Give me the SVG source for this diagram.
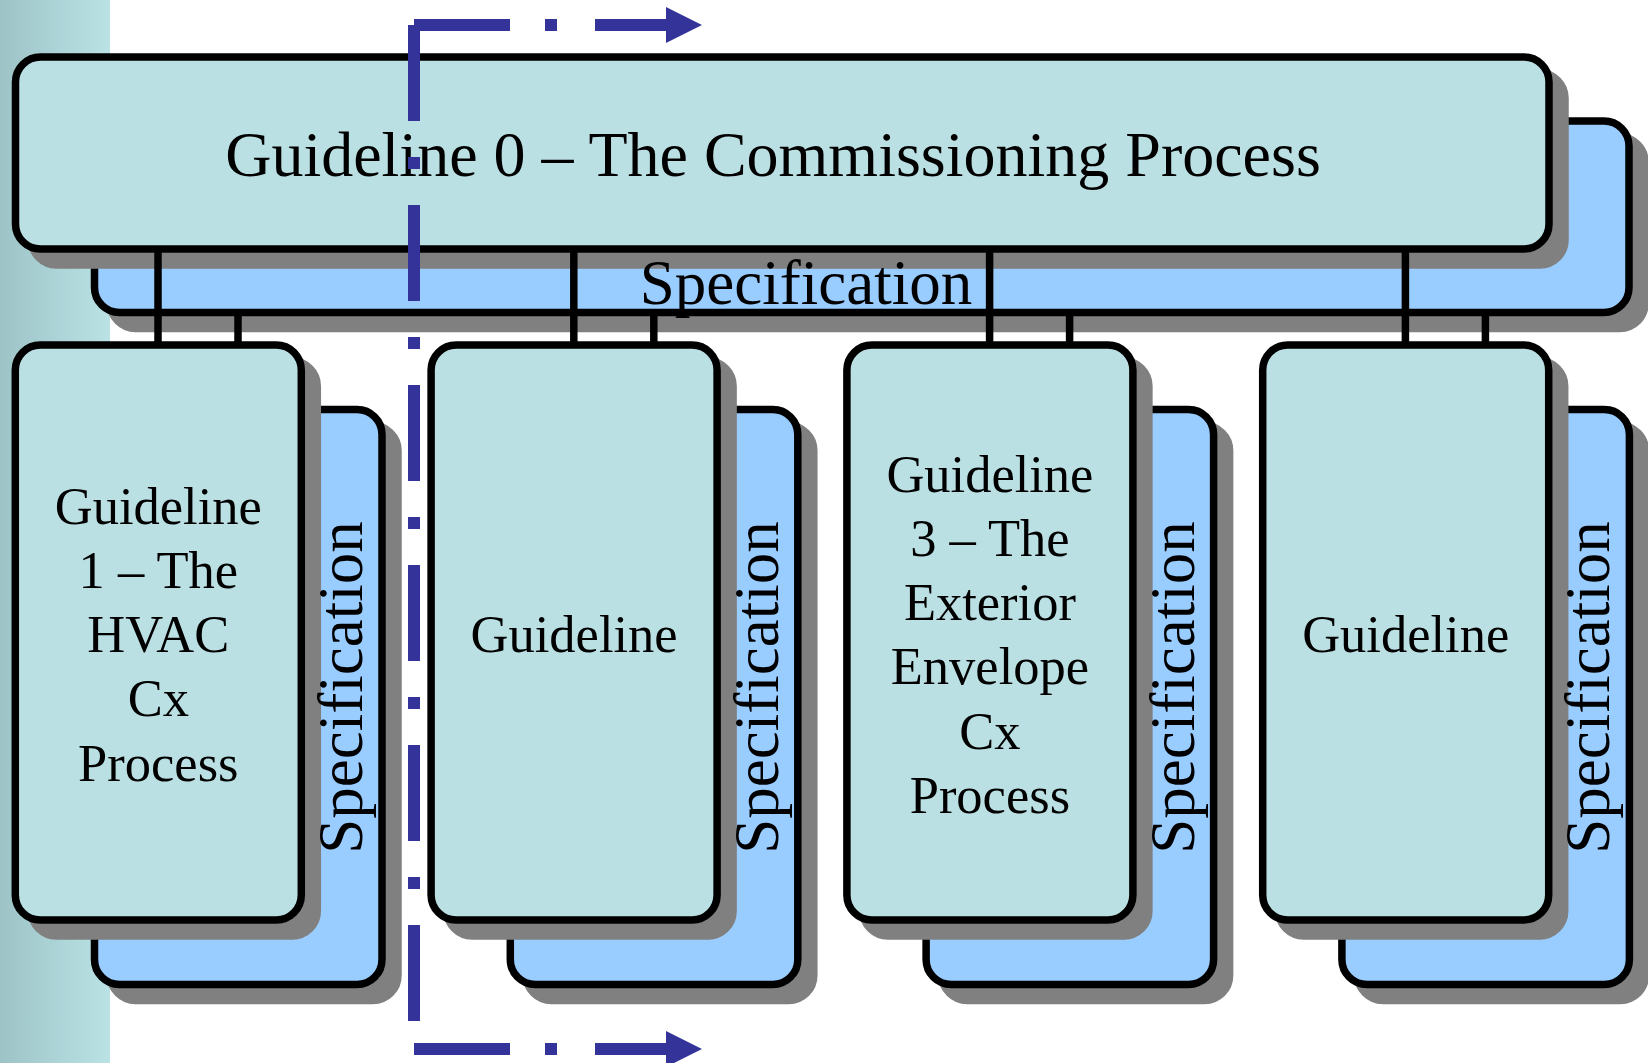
<svg xmlns="http://www.w3.org/2000/svg" width="1648" height="1063" viewBox="0 0 1648 1063">
<defs>
<linearGradient id="strip" x1="0" y1="0" x2="1" y2="0">
<stop offset="0" stop-color="#9dc3c7"/>
<stop offset="1" stop-color="#bae2e5"/>
</linearGradient>
<marker id="arrow" markerUnits="userSpaceOnUse" markerWidth="36" markerHeight="36" viewBox="0 0 36 36" refX="0" refY="18" orient="auto">
<path d="M0,0 L36,18 L0,36 Z" fill="#333399"/>
</marker>
</defs>
<style>
.gd{fill:#bbe0e3;stroke:#000;stroke-width:7.5}
.sp{fill:#99ccff;stroke:#000;stroke-width:7.5}
.sh{fill:#808080;stroke:#808080;stroke-width:7.5}
.big{font-family:"Liberation Serif","Times New Roman",serif;font-size:64px;fill:#000;text-anchor:middle}
.spt{font-family:"Liberation Serif","Times New Roman",serif;font-size:63px;fill:#000;text-anchor:middle}
.sm{font-family:"Liberation Serif","Times New Roman",serif;font-size:52.5px;fill:#000;text-anchor:middle}
.con{stroke:#000;stroke-width:7.5;fill:none}
.flow{stroke:#333399;stroke-width:12;fill:none}
</style>
<rect x="0" y="0" width="1648" height="1063" fill="#fff"/>
<rect x="0" y="0" width="110" height="1063" fill="url(#strip)"/>

<g id="spec-0">
<rect class="sh" x="110.5" y="137" width="1534.5" height="191.5" rx="25"/>
<rect class="sp" x="94.5" y="121" width="1534.5" height="191.5" rx="25"/>
</g>
<g id="guideline-0">
<rect class="sh" x="31.5" y="73" width="1533.5" height="192" rx="25"/>
<rect class="gd" x="15.5" y="57" width="1533.5" height="192" rx="25"/>
<text class="big" x="773" y="176">Guideline 0 – The Commissioning Process</text>
</g>
<g id="spec-0-label">
<text class="spt" x="806" y="304">Specification</text>
</g>

<g id="spec-1">
<rect class="sh" x="110.5" y="425.5" width="287.5" height="575" rx="25"/>
<rect class="sp" x="94.5" y="409.5" width="287.5" height="575" rx="25"/>
</g>
<g id="guideline-1">
<rect class="sh" x="31.3" y="361" width="286" height="575" rx="25"/>
<rect class="gd" x="15.3" y="345" width="286" height="575" rx="25"/>
<text class="sm" x="158.3" y="523.5">Guideline</text>
<text class="sm" x="158.3" y="587.75">1 – The</text>
<text class="sm" x="158.3" y="652">HVAC</text>
<text class="sm" x="158.3" y="716.25">Cx</text>
<text class="sm" x="158.3" y="780.5">Process</text>
</g>
<g id="spec-1-label">
<text class="spt" transform="translate(362,687.5) rotate(-90)">Specification</text>
</g>

<g id="spec-2" transform="translate(415.8,0)">
<rect class="sh" x="110.5" y="425.5" width="287.5" height="575" rx="25"/>
<rect class="sp" x="94.5" y="409.5" width="287.5" height="575" rx="25"/>
</g>
<g id="guideline-2" transform="translate(415.8,0)">
<rect class="sh" x="31.3" y="361" width="286" height="575" rx="25"/>
<rect class="gd" x="15.3" y="345" width="286" height="575" rx="25"/>
<text class="sm" x="158.3" y="652">Guideline</text>
</g>
<g id="spec-2-label" transform="translate(415.8,0)">
<text class="spt" transform="translate(362,687.5) rotate(-90)">Specification</text>
</g>

<g id="spec-3" transform="translate(831.6,0)">
<rect class="sh" x="110.5" y="425.5" width="287.5" height="575" rx="25"/>
<rect class="sp" x="94.5" y="409.5" width="287.5" height="575" rx="25"/>
</g>
<g id="guideline-3" transform="translate(831.6,0)">
<rect class="sh" x="31.3" y="361" width="286" height="575" rx="25"/>
<rect class="gd" x="15.3" y="345" width="286" height="575" rx="25"/>
<text class="sm" x="158.3" y="491.5">Guideline</text>
<text class="sm" x="158.3" y="555.75">3 – The</text>
<text class="sm" x="158.3" y="620">Exterior</text>
<text class="sm" x="158.3" y="684.25">Envelope</text>
<text class="sm" x="158.3" y="748.5">Cx</text>
<text class="sm" x="158.3" y="812.75">Process</text>
</g>
<g id="spec-3-label" transform="translate(831.6,0)">
<text class="spt" transform="translate(362,687.5) rotate(-90)">Specification</text>
</g>

<g id="spec-4" transform="translate(1247.4,0)">
<rect class="sh" x="110.5" y="425.5" width="287.5" height="575" rx="25"/>
<rect class="sp" x="94.5" y="409.5" width="287.5" height="575" rx="25"/>
</g>
<g id="guideline-4" transform="translate(1247.4,0)">
<rect class="sh" x="31.3" y="361" width="286" height="575" rx="25"/>
<rect class="gd" x="15.3" y="345" width="286" height="575" rx="25"/>
<text class="sm" x="158.3" y="652">Guideline</text>
</g>
<g id="spec-4-label" transform="translate(1247.4,0)">
<text class="spt" transform="translate(362,687.5) rotate(-90)">Specification</text>
</g>

<g id="connectors">
<line class="con" x1="158" y1="249" x2="158" y2="345"/>
<line class="con" x1="238" y1="312.5" x2="238" y2="345"/>
<line class="con" x1="573.8" y1="249" x2="573.8" y2="345"/>
<line class="con" x1="653.8" y1="312.5" x2="653.8" y2="345"/>
<line class="con" x1="989.6" y1="249" x2="989.6" y2="345"/>
<line class="con" x1="1069.6" y1="312.5" x2="1069.6" y2="345"/>
<line class="con" x1="1405.4" y1="249" x2="1405.4" y2="345"/>
<line class="con" x1="1485.4" y1="312.5" x2="1485.4" y2="345"/>
</g>

<g id="flow-arrows">
<line class="flow" x1="414" y1="25" x2="414" y2="1021" stroke-dasharray="96 36 12 36"/>
<line class="flow" x1="414" y1="25" x2="666" y2="25" stroke-dasharray="96 35 12 38" marker-end="url(#arrow)"/>
<line class="flow" x1="414" y1="1049" x2="666" y2="1049" stroke-dasharray="96 35 12 38" marker-end="url(#arrow)"/>
</g>
</svg>
